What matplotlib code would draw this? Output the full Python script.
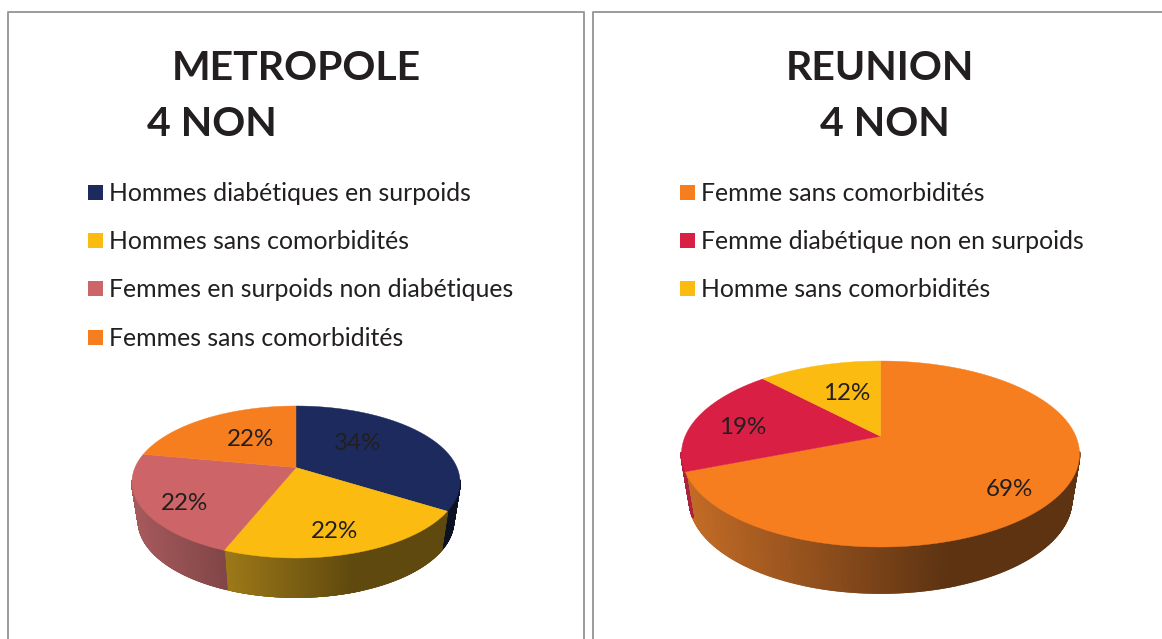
import numpy as np
import matplotlib
matplotlib.use('Agg')
import matplotlib.pyplot as plt
from matplotlib.patches import Rectangle

plt.rcParams['font.family'] = ['Lato', 'DejaVu Sans']

metro_labels = ['Hommes diabétiques en surpoids', 'Hommes sans comorbidités',
                'Femmes en surpoids non diabétiques', 'Femmes sans comorbidités']
metro_values = [34, 22, 22, 22]
metro_colors = ['#1c2a5e', '#fbbb10', '#cd6467', '#f77e1f']

reunion_labels = ['Femme sans comorbidités', 'Femme diabétique non en surpoids',
                  'Homme sans comorbidités']
reunion_values = [69, 19, 12]
reunion_colors = ['#f77e1f', '#da1f44', '#fbbb10']

TEXT = '#231f20'
TILT = 0.19  # how far the perspective pushes the apex back
SHRINK = 0.96  # bottom rim is a bit narrower than the top one


def project(theta, cx, cy, rx, ry, r=1.0):
    # theta runs clockwise from the top, then a projective map moves the apex up
    x = r * np.sin(theta)
    y = r * np.cos(theta)
    den = 1 + TILT * y
    return cx + rx * x * np.sqrt(1 - TILT ** 2) / den, cy - ry * (y + TILT) / den


def shade(color, x):
    # side wall gets darker from left to right, flat after x=0.35
    f = np.clip(0.40 + 0.45 * (0.35 - x) / 1.35, 0.40, 0.85)
    rgb = np.array(matplotlib.colors.to_rgb(color))
    return tuple(rgb * f * 0.86 + rgb.mean() * f * 0.14)


def pie3d(ax, values, colors, cx, cy, rx, ry, depth):
    edges = np.cumsum([0] + values) / sum(values) * 2 * np.pi
    apex = project(np.array(0.0), cx, cy, rx, ry, 0.0)

    # side wall first
    for i, color in enumerate(colors):
        t = np.linspace(edges[i], edges[i + 1], 600)
        xs, ys = project(t, cx, cy, rx, ry)
        xb = cx + (xs - cx) * SHRINK
        for k in range(len(t) - 1):
            if ys[k] < cy - 2 and ys[k + 1] < cy - 2:
                continue
            c = shade(color, (xs[k] - cx) / rx)
            ax.fill([xs[k], xs[k + 1], xb[k + 1], xb[k]],
                    [ys[k], ys[k + 1], ys[k + 1] + depth, ys[k] + depth],
                    color=c, lw=1.2, zorder=2)

    # top face
    for i, color in enumerate(colors):
        t = np.linspace(edges[i], edges[i + 1], 200)
        xs, ys = project(t, cx, cy, rx, ry)
        ax.fill(np.r_[apex[0], xs], np.r_[apex[1], ys], color=color, lw=0.3, zorder=3)


def legend(ax, labels, colors, x0):
    for (lab, col, y) in zip(labels, colors, [192.5, 240.5, 288.5, 337]):
        ax.add_patch(Rectangle((x0, y - 7.5), 15, 15, color=col, lw=0, zorder=3))
        ax.text(x0 + 21, y - 1, lab, fontsize=17.9, color=TEXT, va='center_baseline', ha='left')


fig = plt.figure(figsize=(11.62, 6.39), dpi=100)
ax = fig.add_axes([0, 0, 1, 1])
ax.set_xlim(0, 1162)
ax.set_ylim(639, 0)
ax.axis('off')

# panel frames
border = '#9b9b9b'
ax.plot([7.5, 7.5, 583.5, 583.5], [639, 12, 12, 639], color=border, lw=1.4)
ax.plot([592.5, 592.5, 1162], [639, 12, 12], color=border, lw=1.4)

# titles
ax.text(296, 80, 'METROPOLE', fontsize=29.5, fontweight='bold', color=TEXT, ha='center', va='baseline')
ax.text(211.5, 136, '4 NON', fontsize=29.5, fontweight='bold', color=TEXT, ha='center', va='baseline')
ax.text(880, 80, 'REUNION', fontsize=29.5, fontweight='bold', color=TEXT, ha='center', va='baseline')
ax.text(885, 136, '4 NON', fontsize=29.5, fontweight='bold', color=TEXT, ha='center', va='baseline')

legend(ax, metro_labels, metro_colors, 88)
legend(ax, reunion_labels, reunion_colors, 680)

pie3d(ax, metro_values, metro_colors, 296, 482, 164, 76, 39)
pie3d(ax, reunion_values, reunion_colors, 880.5, 454, 199, 93, 46)

# slice labels
metro_pos = [(358, 444), (335, 532), (185, 504), (251, 440)]
reunion_pos = [(1009, 490), (743, 428), (847, 394)]
for v, (x, y) in zip(metro_values, metro_pos):
    ax.text(x, y, f'{v}%', fontsize=17.4, color=TEXT, ha='center', va='center', zorder=5)
for v, (x, y) in zip(reunion_values, reunion_pos):
    ax.text(x, y, f'{v}%', fontsize=17.4, color=TEXT, ha='center', va='center', zorder=5)

fig.savefig('out.png', dpi=100)
